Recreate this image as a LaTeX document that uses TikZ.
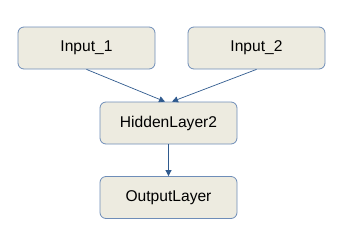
\documentclass[tikz,border=0pt]{standalone}
\usepackage{fontspec}
\setmainfont{Liberation Sans}
\usetikzlibrary{arrows.meta}
\definecolor{boxfill}{HTML}{EDEBE0}
\definecolor{boxline}{HTML}{6E8DB8}
\definecolor{arrowc}{HTML}{2F5A8E}
\tikzset{
  layerbox/.style={draw=boxline, fill=boxfill, rounded corners=6pt, line width=0.8pt,
    minimum width=137pt, minimum height=42pt, inner sep=0pt,
    font=\fontsize{15.6}{18}\selectfont, text=black},
  conn/.style={draw=arrowc, line width=0.7pt, -{Triangle[length=6pt,width=6pt]}}
}
\begin{document}
\begin{tikzpicture}[x=1pt,y=-1pt]
\useasboundingbox (0,0) rectangle (340,242);
\node[layerbox] (in1) at (86.5,48) {Input\_1};
\node[layerbox] (in2) at (256.5,48) {Input\_2};
\node[layerbox] (hid) at (168.5,123) {HiddenLayer2};
\node[layerbox] (out) at (168.5,197.5) {OutputLayer};
\draw[conn] (in1.south) -- ([xshift=-3.5pt]hid.north);
\draw[conn] (in2.south) -- ([xshift=3.5pt]hid.north);
\draw[conn] (hid.south) -- (out.north);
\end{tikzpicture}
\end{document}
